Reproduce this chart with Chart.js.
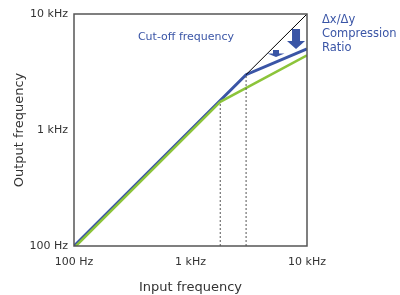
<!DOCTYPE html>
<html>
<head>
<meta charset="utf-8">
<script src="https://cdn.jsdelivr.net/npm/chart.js@4/dist/chart.umd.min.js"></script>
<style>
  html, body { margin: 0; padding: 0; background: #fff; }
  #wrap { width: 400px; height: 295px; position: relative; }
</style>
</head>
<body>
<div id="wrap"><canvas id="chart"></canvas></div>
<script>
// ================= data =================
const tickValues = [100, 1000, 10000];
const tickLabels = ["100 Hz", "1 kHz", "10 kHz"];

// compressed output (blue), knee at 3 kHz
const blueX = [100, 3000, 10000];
const blueY = [100, 3000, 5000];
// stronger compression (green), knee at ~1.8 kHz
const greenX = [104, 1800, 10000];
const greenY = [100, 1750, 4400];
// uncompressed reference above the knee
const diagX = [3000, 10000];
const diagY = [3000, 10000];
// dotted drop lines from the two knees
const dropA_X = [1800, 1800];
const dropA_Y = [100, 1750];
const dropB_X = [3000, 3000];
const dropB_Y = [100, 3000];
// arrows (x, top, tip) in Hz
const arrowX = [8050, 5420];
const arrowTop = [7430, 4890];
const arrowTip = [4990, 4260];

const pts = (xs, ys) => xs.map((x, i) => ({x: x, y: ys[i]}));

const BLUE = '#3a55a6';
const GREEN = '#8cc43a';
const TXT = '#333333';
const FONT = '"DejaVu Sans", Verdana, sans-serif';

// ================= plugin: frame, texts, arrows =================
const extras = {
  id: 'extras',
  afterDatasetsDraw(chart) {
    const c = chart.ctx, a = chart.chartArea;
    const xs = chart.scales.x, ys = chart.scales.y;
    c.save();
    // arrows
    const shaftW = [8, 6], headW = [18, 17], headL = [8, 3.5];
    c.fillStyle = BLUE;
    arrowX.forEach((v, i) => {
      const px = xs.getPixelForValue(v);
      const top = ys.getPixelForValue(arrowTop[i]);
      const tip = ys.getPixelForValue(arrowTip[i]);
      const hb = tip - headL[i];
      c.beginPath();
      c.moveTo(px - shaftW[i] / 2, top);
      c.lineTo(px + shaftW[i] / 2, top);
      c.lineTo(px + shaftW[i] / 2, hb);
      c.lineTo(px + headW[i] / 2, hb);
      c.lineTo(px, tip);
      c.lineTo(px - headW[i] / 2, hb);
      c.lineTo(px - shaftW[i] / 2, hb);
      c.closePath();
      c.fill();
    });
    // frame
    c.strokeStyle = '#555';
    c.lineWidth = 1.5;
    c.strokeRect(a.left, a.top, a.right - a.left, a.bottom - a.top);
    // texts
    c.fillStyle = BLUE;
    c.textBaseline = 'middle';
    c.font = '11px ' + FONT;
    c.textAlign = 'center';
    c.fillText('Cut-off frequency', 186, 37);
    c.font = '11.5px ' + FONT;
    c.textAlign = 'left';
    c.fillText('\u0394x/\u0394y', 322, 20);
    c.fillText('Compression', 322, 34);
    c.fillText('Ratio', 322, 48);
    c.restore();
  }
};

// ================= chart =================
const ctx = document.getElementById('chart').getContext('2d');
new Chart(ctx, {
  type: 'line',
  data: {
    datasets: [
      {data: pts(dropA_X, dropA_Y), borderColor: '#555', borderWidth: 1, borderDash: [2, 2], pointRadius: 0},
      {data: pts(dropB_X, dropB_Y), borderColor: '#555', borderWidth: 1, borderDash: [2, 2], pointRadius: 0},
      {data: pts(diagX, diagY), borderColor: '#000', borderWidth: 1, pointRadius: 0},
      {data: pts(greenX, greenY), borderColor: GREEN, borderWidth: 2.5, pointRadius: 0},
      {data: pts(blueX, blueY), borderColor: BLUE, borderWidth: 3, pointRadius: 0}
    ]
  },
  options: {
    responsive: true,
    maintainAspectRatio: false,
    animation: false,
    layout: {padding: {top: 14, right: 93, left: 0, bottom: 0}},
    plugins: {legend: {display: false}, tooltip: {enabled: false}},
    scales: {
      x: {
        type: 'logarithmic', min: 100, max: 10000,
        afterBuildTicks: s => { s.ticks = tickValues.map(v => ({value: v})); },
        afterFit: s => { s.height = 49; },
        grid: {display: false, drawTicks: false},
        border: {display: false},
        ticks: {
          padding: 10, color: TXT, font: {family: FONT, size: 11}, maxRotation: 0,
          callback: (v) => tickLabels[tickValues.indexOf(v)]
        },
        title: {display: true, text: 'Input frequency', color: TXT, font: {family: FONT, size: 13}, padding: {top: 0, bottom: 0}}
      },
      y: {
        type: 'logarithmic', min: 100, max: 10000,
        afterBuildTicks: s => { s.ticks = tickValues.map(v => ({value: v})); },
        afterFit: s => { s.width = 74; },
        grid: {display: false, drawTicks: false},
        border: {display: false},
        ticks: {
          padding: 6, color: TXT, font: {family: FONT, size: 11},
          callback: (v) => tickLabels[tickValues.indexOf(v)]
        },
        title: {display: true, text: 'Output frequency', color: TXT, font: {family: FONT, size: 13}, padding: {top: 12, bottom: 0}}
      }
    }
  },
  plugins: [extras]
});
</script>
</body>
</html>
